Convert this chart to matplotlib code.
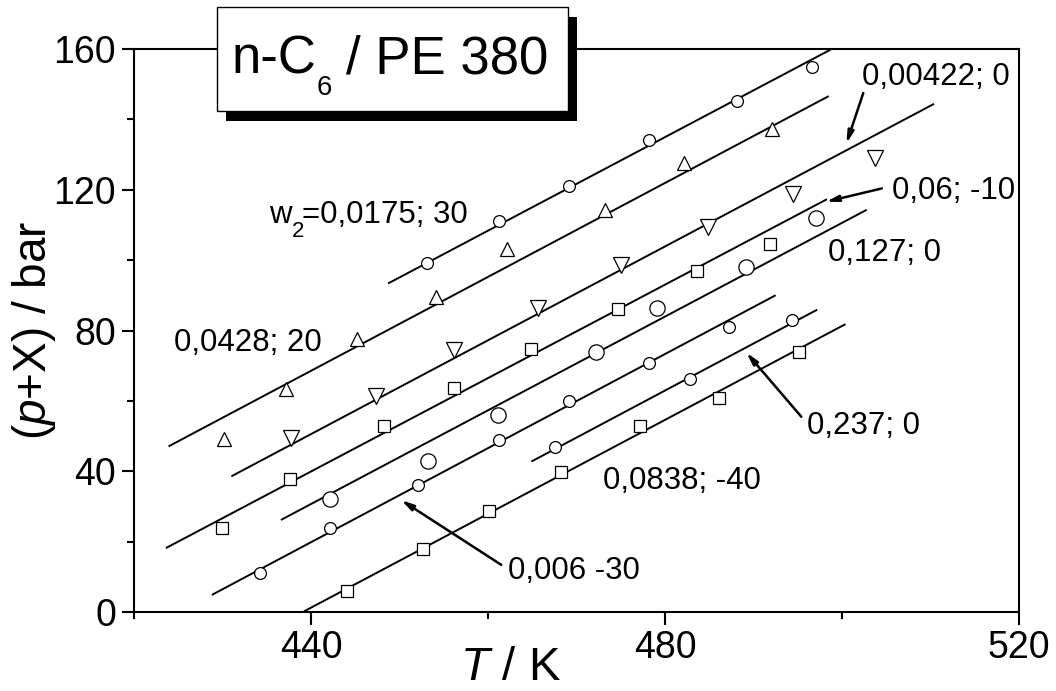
import matplotlib

matplotlib.use("Agg")

import matplotlib.pyplot as plt
from matplotlib.patches import Rectangle
from matplotlib.ticker import MultipleLocator

plt.rcParams["font.family"] = ["Liberation Sans", "DejaVu Sans"]
plt.rcParams["mathtext.fontset"] = "custom"
plt.rcParams["mathtext.rm"] = "Liberation Sans"
plt.rcParams["mathtext.it"] = "Liberation Sans:italic"

# measured isochores: temperature / K and (p+X) / bar
T_1 = [453.1, 461.2, 469.2, 478.2, 488.1, 496.6]
p_1 = [99.1, 111.1, 121.0, 134.1, 145.1, 154.9]
T_2 = [430.2, 437.2, 445.2, 454.1, 462.2, 473.2, 482.1, 492.1]
p_2 = [49.3, 63.3, 77.5, 89.4, 103.3, 114.4, 127.5, 137.4]
T_3 = [437.7, 447.3, 456.1, 465.6, 475.0, 484.8, 494.5, 503.7]
p_3 = [49.5, 61.4, 74.4, 86.4, 98.6, 109.5, 118.9, 129.0]
T_4 = [429.9, 437.6, 448.2, 456.2, 464.9, 474.7, 483.6, 491.9]
p_4 = [23.8, 37.8, 52.8, 63.8, 74.7, 86.0, 97.0, 104.7]
T_5 = [442.1, 453.2, 461.1, 472.2, 479.1, 489.1, 497.1]
p_5 = [32.0, 42.9, 56.0, 73.9, 86.3, 98.1, 112.0]
T_6 = [434.2, 442.1, 452.1, 461.2, 469.2, 478.2, 487.2]
p_6 = [11.2, 23.8, 36.1, 48.9, 60.0, 70.9, 81.0]
T_7 = [467.6, 482.8, 494.4]
p_7 = [47.0, 66.1, 83.0]
T_8 = [444.1, 452.7, 460.1, 468.2, 477.2, 486.1, 495.1]
p_8 = [6.1, 17.9, 28.8, 39.9, 52.9, 60.9, 74.0]

# fitted straight lines (start / end)
fit_T0 = [448.8, 424.0, 431.1, 423.7, 436.7, 428.9, 465.0, 439.3]
fit_T1 = [498.6, 498.4, 510.3, 498.2, 502.7, 492.4, 497.1, 500.3]
fit_p0 = [93.5, 47.2, 38.7, 18.3, 26.3, 5.0, 42.9, 0.3]
fit_p1 = [159.7, 146.5, 144.3, 117.2, 114.2, 89.9, 85.8, 81.7]

markers = ["o", "^", "v", "s", "o", "o", "o", "s"]
msizes = [8.5, 10.5, 11, 8, 11, 8.5, 8.5, 8]

# series labels: w2; temperature offset (first one gets its subscript separately)
labels = ["0,0428; 20", "0,00422; 0", "0,06; -10",
          "0,127; 0", "0,006 -30", "0,237; 0", "0,0838; -40"]
label_T = [424.5, 502.2, 505.6, 498.4, 462.3, 496.0, 473.0]
label_p = [74.1, 149.7, 117.4, 99.7, 9.3, 50.6, 34.9]
w2_T, w2_p = 435.3, 110.5

# arrows: (tail T, tail p, tip T, tip p)
arrows = {
    "0,00422; 0": (502.4, 147.5, 500.5, 133.2),
    "0,06; -10": (504.5, 120.4, 498.2, 116.6),
    "0,006 -30": (461.5, 13.4, 450.2, 31.8),
    "0,237; 0": (495.4, 55.5, 489.2, 73.7),
}

series = [(T_1, p_1), (T_2, p_2), (T_3, p_3), (T_4, p_4),
          (T_5, p_5), (T_6, p_6), (T_7, p_7), (T_8, p_8)]

fig = plt.figure(figsize=(10.56, 6.91), dpi=100)
ax = fig.add_axes([0.1269, 0.1143, 0.8381, 0.8147])

for i, (T, p) in enumerate(series):
    ax.plot([fit_T0[i], fit_T1[i]], [fit_p0[i], fit_p1[i]], color="black", lw=1.4, zorder=2)
    ax.plot(T, p, ls="none", marker=markers[i], ms=msizes[i], mfc="white",
            mec="black", mew=0.9, zorder=3)

for text, x, y in zip(labels, label_T, label_p):
    ax.text(x, y, text, fontsize=22.5, ha="left", va="baseline")

# "w2=0,0175; 30" with a dropped subscript
ax.text(w2_T, w2_p, "w", fontsize=22.5, ha="left", va="baseline")
ax.annotate("2", (w2_T, w2_p), xytext=(22, -13.5), textcoords="offset pixels",
            fontsize=16, ha="left", va="baseline")
ax.annotate("=0,0175; 30", (w2_T, w2_p), xytext=(33, 0), textcoords="offset pixels",
            fontsize=22.5, ha="left", va="baseline")

for x0, y0, x1, y1 in arrows.values():
    ax.annotate("", xy=(x1, y1), xytext=(x0, y0),
                arrowprops=dict(arrowstyle="-|>,head_length=0.7,head_width=0.18",
                                lw=1.8, color="black", shrinkA=0, shrinkB=0))

ax.set_xlim(420, 520)
ax.set_ylim(0, 160)
ax.xaxis.set_major_locator(MultipleLocator(40))
ax.xaxis.set_minor_locator(MultipleLocator(20))
ax.yaxis.set_major_locator(MultipleLocator(40))
ax.yaxis.set_minor_locator(MultipleLocator(20))
ax.tick_params(which="both", direction="out", width=1.5, labelsize=27, pad=4)
ax.tick_params(which="major", length=9)
ax.tick_params(which="minor", length=5)
for side in ax.spines.values():
    side.set_linewidth(1.5)

ax.set_xlabel("$T$ / K", fontsize=34)
ax.xaxis.set_label_coords(0.425, -0.06)
ax.set_ylabel("($p$+X) / bar", fontsize=33)
ax.yaxis.set_label_coords(-0.086, 0.5)

# title box with drop shadow
W, H = 1056, 691
shadow = Rectangle((225.7 / W, 1 - 120.7 / H), 351 / W, 103.4 / H,
                   transform=fig.transFigure, facecolor="black", edgecolor="none", zorder=5)
box = Rectangle((216.7 / W, 1 - 110.7 / H), 351 / W, 103.4 / H,
                transform=fig.transFigure, facecolor="white", edgecolor="black", lw=1, zorder=6)
fig.add_artist(shadow)
fig.add_artist(box)
fig.text(232 / W, 1 - 73.3 / H, "n-C", fontsize=38, ha="left", va="baseline", zorder=7)
fig.text(317 / W, 1 - 95 / H, "6", fontsize=20, ha="left", va="baseline", zorder=7)
fig.text(346 / W, 1 - 73.3 / H, "/ PE 380", fontsize=38, ha="left", va="baseline", zorder=7)

fig.savefig("out.png", dpi=100)
